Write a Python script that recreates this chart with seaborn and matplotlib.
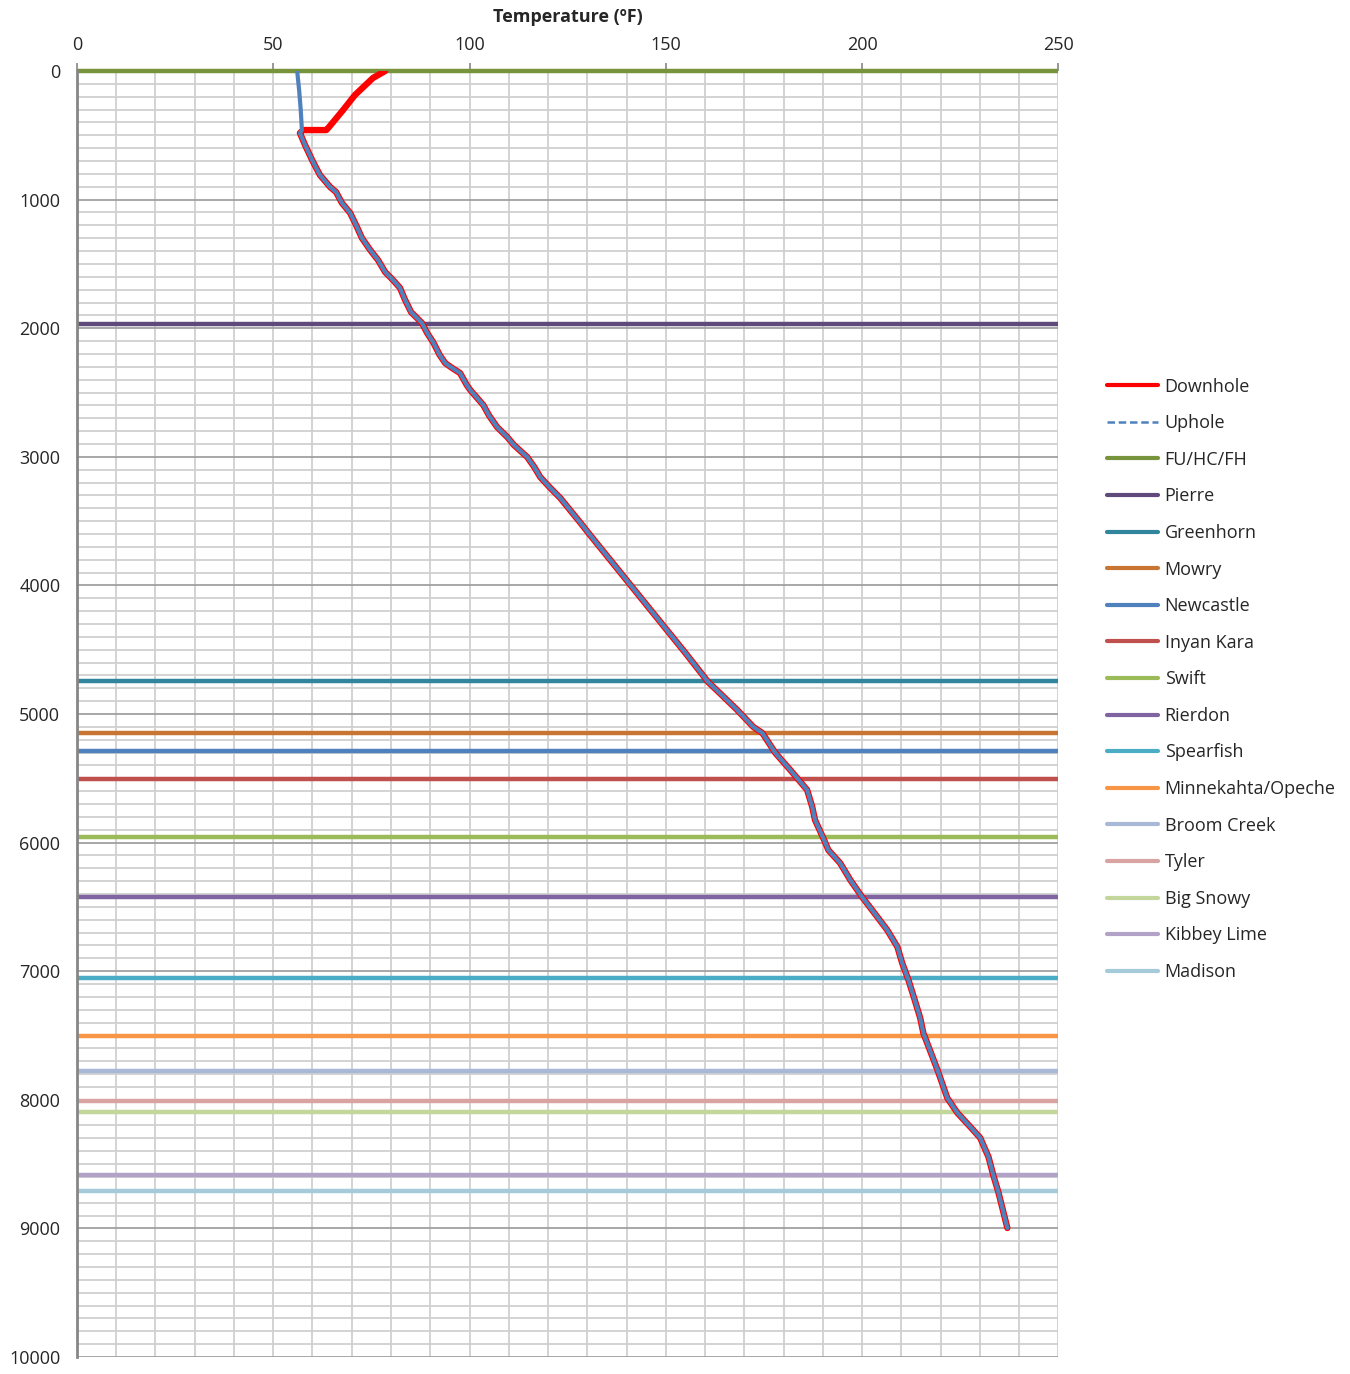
import numpy as np
import pandas as pd
import matplotlib
matplotlib.use("Agg")
import matplotlib.pyplot as plt
from matplotlib.lines import Line2D
import seaborn as sns

# Downhole temperature log (depth in ft, temperature in ºF)
downhole_depth = [0, 54, 187, 303, 443, 459, 459, 482, 575, 692,
                  809, 902, 941, 1026, 1104, 1198, 1299, 1392, 1470, 1563,
                  1625, 1687, 1781, 1874, 1960, 2037, 2107, 2208, 2271, 2310,
                  2349, 2442, 2481, 2597, 2680, 2768, 2846, 2908, 3002, 3080,
                  3157, 3240, 3320, 3414, 3515, 3608, 3725, 3857, 3997, 4137,
                  4269, 4401, 4518, 4635, 4752, 4842, 4969, 5101, 5148, 5303,
                  5435, 5529, 5591, 5723, 5824, 5964, 6058, 6159, 6291, 6423,
                  6579, 6680, 6812, 6936, 7068, 7224, 7364, 7481, 7768, 7986,
                  8103, 8212, 8297, 8445, 8585, 8717, 8997]
downhole_temp = [78.5, 75.4, 70.8, 67.8, 64.0, 63.5, 57.6, 56.8, 58.1, 59.9,
                 61.9, 64.5, 66.0, 67.5, 69.6, 71.1, 72.6, 74.7, 76.7, 78.5,
                 80.5, 82.3, 83.6, 85.1, 87.9, 89.2, 90.7, 92.4, 93.8, 95.6,
                 97.6, 99.3, 100.2, 103.5, 105.0, 107.0, 109.6, 111.3, 114.7, 116.5,
                 118.0, 120.5, 123.1, 125.6, 128.3, 130.7, 133.8, 137.3, 141.0, 144.7,
                 148.2, 151.7, 154.8, 157.8, 160.8, 163.9, 168.2, 172.3, 174.6, 177.9,
                 181.7, 184.3, 186.0, 187.3, 188.0, 190.1, 191.4, 194.4, 197.0, 200.0,
                 203.9, 206.4, 209.0, 210.2, 211.8, 213.4, 214.8, 215.6, 219.2, 221.7,
                 224.3, 227.6, 230.1, 232.2, 233.4, 234.7, 237.0]

# Uphole log: shallow section, then the shared deeper section
uphole_depth = [0, 150, 300, 459] + downhole_depth[7:]
uphole_temp = [56.1, 56.6, 57.0, 57.3] + downhole_temp[7:]

# Formation tops (ft)
formations = ["FU/HC/FH", "Pierre", "Greenhorn", "Mowry", "Newcastle", "Inyan Kara", "Swift",
              "Rierdon", "Spearfish", "Minnekahta/Opeche", "Broom Creek", "Tyler", "Big Snowy",
              "Kibbey Lime", "Madison"]
formation_tops = [0, 1967, 4743, 5148, 5288, 5505, 5956, 6423, 7053, 7504, 7776, 8009, 8095,
                  8585, 8709]
formation_colors = ["#77933C", "#604A7B", "#31859C", "#C87533", "#4F81BD", "#C0504D", "#9BBB59",
                    "#8064A2", "#4BACC6", "#F79646", "#A7B9D6", "#D9A3A1", "#C3D69B", "#B3A2C7",
                    "#A5CBDA"]

x_ticks = [0, 50, 100, 150, 200, 250]
y_ticks = list(range(0, 10001, 1000))

sns.set_theme(style="white")
plt.rcParams["font.family"] = ["Open Sans", "DejaVu Sans"]

fig = plt.figure(figsize=(13.5, 13.74), dpi=100)
ax = fig.add_axes([0.057, 0.0124, 0.727, 0.9359])

# grid
ax.set_xticks(np.arange(0, 251, 10), minor=True)
ax.set_yticks(np.arange(0, 10001, 100), minor=True)
ax.grid(which="minor", axis="both", color="#D0D0D0", lw=1.3, zorder=0)
ax.grid(which="major", axis="x", color="#D0D0D0", lw=1.3, zorder=0)
ax.grid(which="major", axis="y", color="#A0A0A0", lw=1.3, zorder=0)
ax.set_axisbelow(True)

# formation tops
form_df = pd.DataFrame({
    "Temperature": np.tile([0, 250], len(formations)),
    "Depth": np.repeat(formation_tops, 2),
    "Formation": np.repeat(formations, 2),
})
sns.lineplot(data=form_df, x="Temperature", y="Depth", hue="Formation",
             hue_order=formations, palette=formation_colors, lw=3.2,
             estimator=None, sort=False, legend=False, ax=ax, zorder=2)
for line in ax.get_lines():
    line.set_clip_on(False)
    line.set_solid_capstyle("butt")

# temperature logs
down_df = pd.DataFrame({"Temperature": downhole_temp, "Depth": downhole_depth})
up_df = pd.DataFrame({"Temperature": uphole_temp, "Depth": uphole_depth})
sns.lineplot(data=down_df, x="Temperature", y="Depth", color="#FF0000", lw=4.6,
             estimator=None, sort=False, ax=ax, zorder=3)
sns.lineplot(data=up_df, x="Temperature", y="Depth", color="#4F81BD", lw=3.0,
             estimator=None, sort=False, ax=ax, zorder=4)

ax.set_xlim(0, 250)
ax.set_ylim(10000, 0)

ax.xaxis.tick_top()
ax.xaxis.set_label_position("top")
ax.set_xticks(x_ticks)
ax.set_yticks(y_ticks)
ax.set_xticklabels([str(v) for v in x_ticks], fontsize=13)
ax.set_yticklabels([str(v) for v in y_ticks], fontsize=13)
ax.tick_params(axis="both", which="major", length=6, width=1.2, color="#868686",
               direction="out", pad=6)
ax.tick_params(axis="both", which="minor", length=0)
ax.set_xlabel("Temperature (ºF)", fontsize=13, fontweight="bold", labelpad=10)
ax.set_ylabel("")

for side in ["top", "right", "bottom"]:
    ax.spines[side].set_visible(False)
ax.spines["left"].set_color("#868686")
ax.spines["left"].set_linewidth(2)

handles = [Line2D([], [], color="#FF0000", lw=3),
           Line2D([], [], color="#4F81BD", lw=1.8, ls=(0, (3, 1.5)))]
handles += [Line2D([], [], color=c, lw=3) for c in formation_colors]
labels = ["Downhole", "Uphole"] + formations
fig.legend(handles, labels, loc="upper left", bbox_to_anchor=(0.8145, 0.7305),
           frameon=False, fontsize=13, handlelength=2.85, handletextpad=0.35,
           labelspacing=1.03, borderaxespad=0)

fig.savefig("out.png", dpi=100)
